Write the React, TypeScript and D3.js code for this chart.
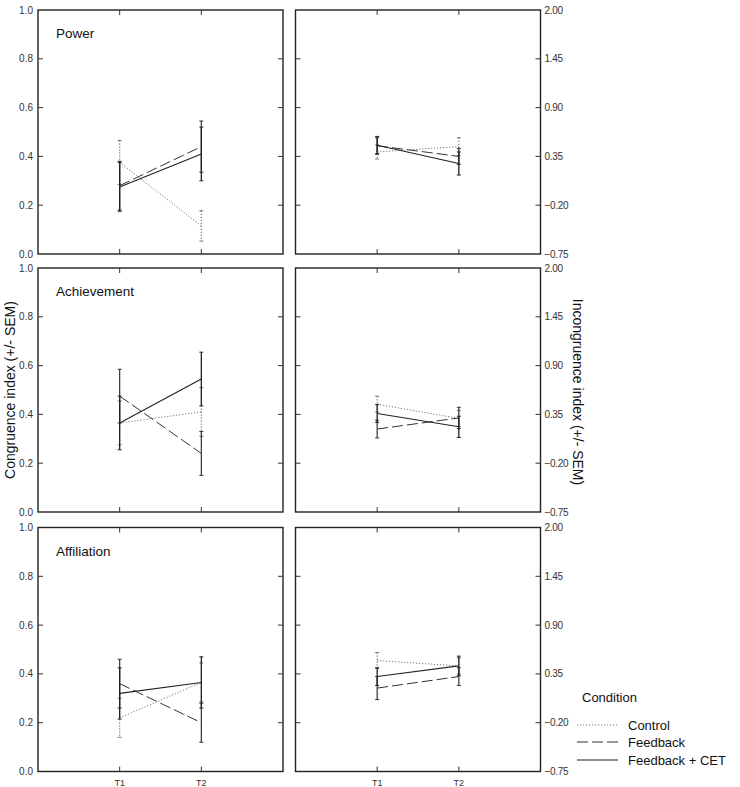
import React from "react";
import * as d3 from "d3";

const times = ["T1", "T2"];
const conditions = ["Control", "Feedback", "Feedback + CET"];
const panelTitles = ["Power", "Achievement", "Affiliation"];
const leftTicks = [0.0, 0.2, 0.4, 0.6, 0.8, 1.0];
const rightTicks = [-0.75, -0.2, 0.35, 0.9, 1.45, 2.0];

// means / SEM, rows = conditions (Control, Feedback, Feedback + CET), cols = T1, T2
const powerCongMean = [[0.375, 0.115], [0.28, 0.44], [0.275, 0.41]];
const powerCongSem = [[0.09, 0.062], [0.10, 0.105], [0.10, 0.11]];
const powerIncMean = [[0.40, 0.46], [0.47, 0.35], [0.475, 0.27]];
const powerIncSem = [[0.08, 0.10], [0.09, 0.09], [0.10, 0.13]];

const achCongMean = [[0.365, 0.41], [0.475, 0.24], [0.365, 0.545]];
const achCongSem = [[0.09, 0.10], [0.11, 0.09], [0.11, 0.11]];
const achIncMean = [[0.465, 0.305], [0.185, 0.31], [0.36, 0.21]];
const achIncSem = [[0.09, 0.09], [0.10, 0.12], [0.10, 0.12]];

const affCongMean = [[0.22, 0.365], [0.36, 0.20], [0.32, 0.365]];
const affCongSem = [[0.08, 0.08], [0.10, 0.08], [0.105, 0.105]];
const affIncMean = [[0.50, 0.44], [0.19, 0.32], [0.32, 0.44]];
const affIncSem = [[0.09, 0.09], [0.13, 0.10], [0.10, 0.11]];

const congMeans = [powerCongMean, achCongMean, affCongMean];
const congSems = [powerCongSem, achCongSem, affCongSem];
const incMeans = [powerIncMean, achIncMean, affIncMean];
const incSems = [powerIncSem, achIncSem, affIncSem];

const styles = [
  { dash: "1.2,1.8", barDash: "1.2,1.8", color: "#777", width: 1 },
  { dash: "11,4", barDash: "", color: "#333", width: 1 },
  { dash: "", barDash: "", color: "#222", width: 1.1 },
];

const FONT = "Arial, 'Liberation Sans', Helvetica, sans-serif";
const W = 245;
const H = 244;
const leftX = 38;
const rightX = 295.5;
const rowTops = [10, 268, 527.5];

function Panel({ x0, y0, means, sems, domain, ticks, side, title, showX }: any) {
  const xs = d3.scalePoint<string>().domain(["", ...times, " "]).range([x0, x0 + W]);
  const ys = d3.scaleLinear().domain(domain).range([y0 + H, y0]);
  const line = d3.line<[number, number]>().x((d) => d[0]).y((d) => d[1]);
  const fmt = side === "left" ? d3.format(".1f") : d3.format(".2f");
  const tk = 5;
  const cap = 2;
  return (
    <g>
      <rect x={x0} y={y0} width={W} height={H} fill="none" stroke="#222" strokeWidth={1.4} />
      {ticks.map((t: number, i: number) => (
        <g key={i}>
          {i > 0 && i < ticks.length - 1 && (
            <>
              <line x1={x0} x2={x0 + tk} y1={ys(t)} y2={ys(t)} stroke="#333" />
              <line x1={x0 + W - tk} x2={x0 + W} y1={ys(t)} y2={ys(t)} stroke="#333" />
            </>
          )}
          {side === "left" ? (
            <text x={x0 - 5} y={ys(t)} dy="0.35em" textAnchor="end" fontSize={10} fill="#333" fontFamily={FONT}>
              {fmt(t)}
            </text>
          ) : (
            <text x={x0 + W + 4} y={ys(t)} dy="0.35em" textAnchor="start" fontSize={10} fill="#333" fontFamily={FONT} letterSpacing={-0.3}>
              {fmt(t)}
            </text>
          )}
        </g>
      ))}
      {times.map((t) => (
        <g key={t}>
          <line x1={xs(t)} x2={xs(t)} y1={y0} y2={y0 + tk} stroke="#333" />
          <line x1={xs(t)} x2={xs(t)} y1={y0 + H - tk} y2={y0 + H} stroke="#333" />
          {showX && (
            <text x={xs(t)} y={y0 + H + 14} textAnchor="middle" fontSize={9} fill="#333" fontFamily={FONT}>
              {t}
            </text>
          )}
        </g>
      ))}
      {title && (
        <text x={x0 + 18} y={y0 + 28} fontSize={13.5} fill="#111" fontFamily={FONT}>
          {title}
        </text>
      )}
      {conditions.map((c, ci) => {
        const st = styles[ci];
        const pts: [number, number][] = times.map((t, ti) => [xs(t) as number, ys(means[ci][ti])]);
        return (
          <g key={c}>
            <path d={line(pts) || ""} fill="none" stroke={st.color} strokeWidth={st.width} strokeDasharray={st.dash} />
            {times.map((t, ti) => {
              const xx = xs(t) as number;
              const hi = ys(means[ci][ti] + sems[ci][ti]);
              const lo = ys(means[ci][ti] - sems[ci][ti]);
              return (
                <g key={t}>
                  <line x1={xx} x2={xx} y1={hi} y2={lo} stroke={st.color} strokeWidth={st.width + 0.2} strokeDasharray={st.barDash} />
                  <line x1={xx - cap} x2={xx + cap} y1={hi} y2={hi} stroke={st.color} strokeWidth={1} />
                  <line x1={xx - cap} x2={xx + cap} y1={lo} y2={lo} stroke={st.color} strokeWidth={1} />
                </g>
              );
            })}
          </g>
        );
      })}
    </g>
  );
}

export default function App() {
  const legendY = [725, 742, 760];
  return (
    <div style={{ position: "absolute", left: 0, top: 0 }}>
      <svg width={740} height={787} style={{ display: "block", background: "#fff" }}>
        {panelTitles.map((p, r) => (
          <g key={p}>
            <Panel
              x0={leftX}
              y0={rowTops[r]}
              means={congMeans[r]}
              sems={congSems[r]}
              domain={[0, 1]}
              ticks={leftTicks}
              side="left"
              title={p}
              showX={r === 2}
            />
            <Panel
              x0={rightX}
              y0={rowTops[r]}
              means={incMeans[r]}
              sems={incSems[r]}
              domain={[-0.75, 2.0]}
              ticks={rightTicks}
              side="right"
              title={null}
              showX={r === 2}
            />
          </g>
        ))}
        <text
          transform="translate(15,390) rotate(-90)"
          textAnchor="middle"
          fontSize={14}
          fill="#111"
          fontFamily={FONT}
        >
          Congruence index (+/- SEM)
        </text>
        <text
          transform="translate(573,392) rotate(90)"
          textAnchor="middle"
          fontSize={14}
          fill="#111"
          fontFamily={FONT}
        >
          Incongruence index (+/- SEM)
        </text>
        <text x={582} y={702} fontSize={13} fill="#111" fontFamily={FONT}>
          Condition
        </text>
        {conditions.map((c, i) => (
          <g key={c}>
            <line
              x1={577}
              x2={618}
              y1={legendY[i]}
              y2={legendY[i]}
              stroke={styles[i].color}
              strokeWidth={styles[i].width}
              strokeDasharray={i === 1 ? "11,4" : styles[i].dash}
            />
            <text x={628} y={legendY[i]} dy="0.35em" fontSize={13} fill="#111" fontFamily={FONT}>
              {c}
            </text>
          </g>
        ))}
      </svg>
    </div>
  );
}
